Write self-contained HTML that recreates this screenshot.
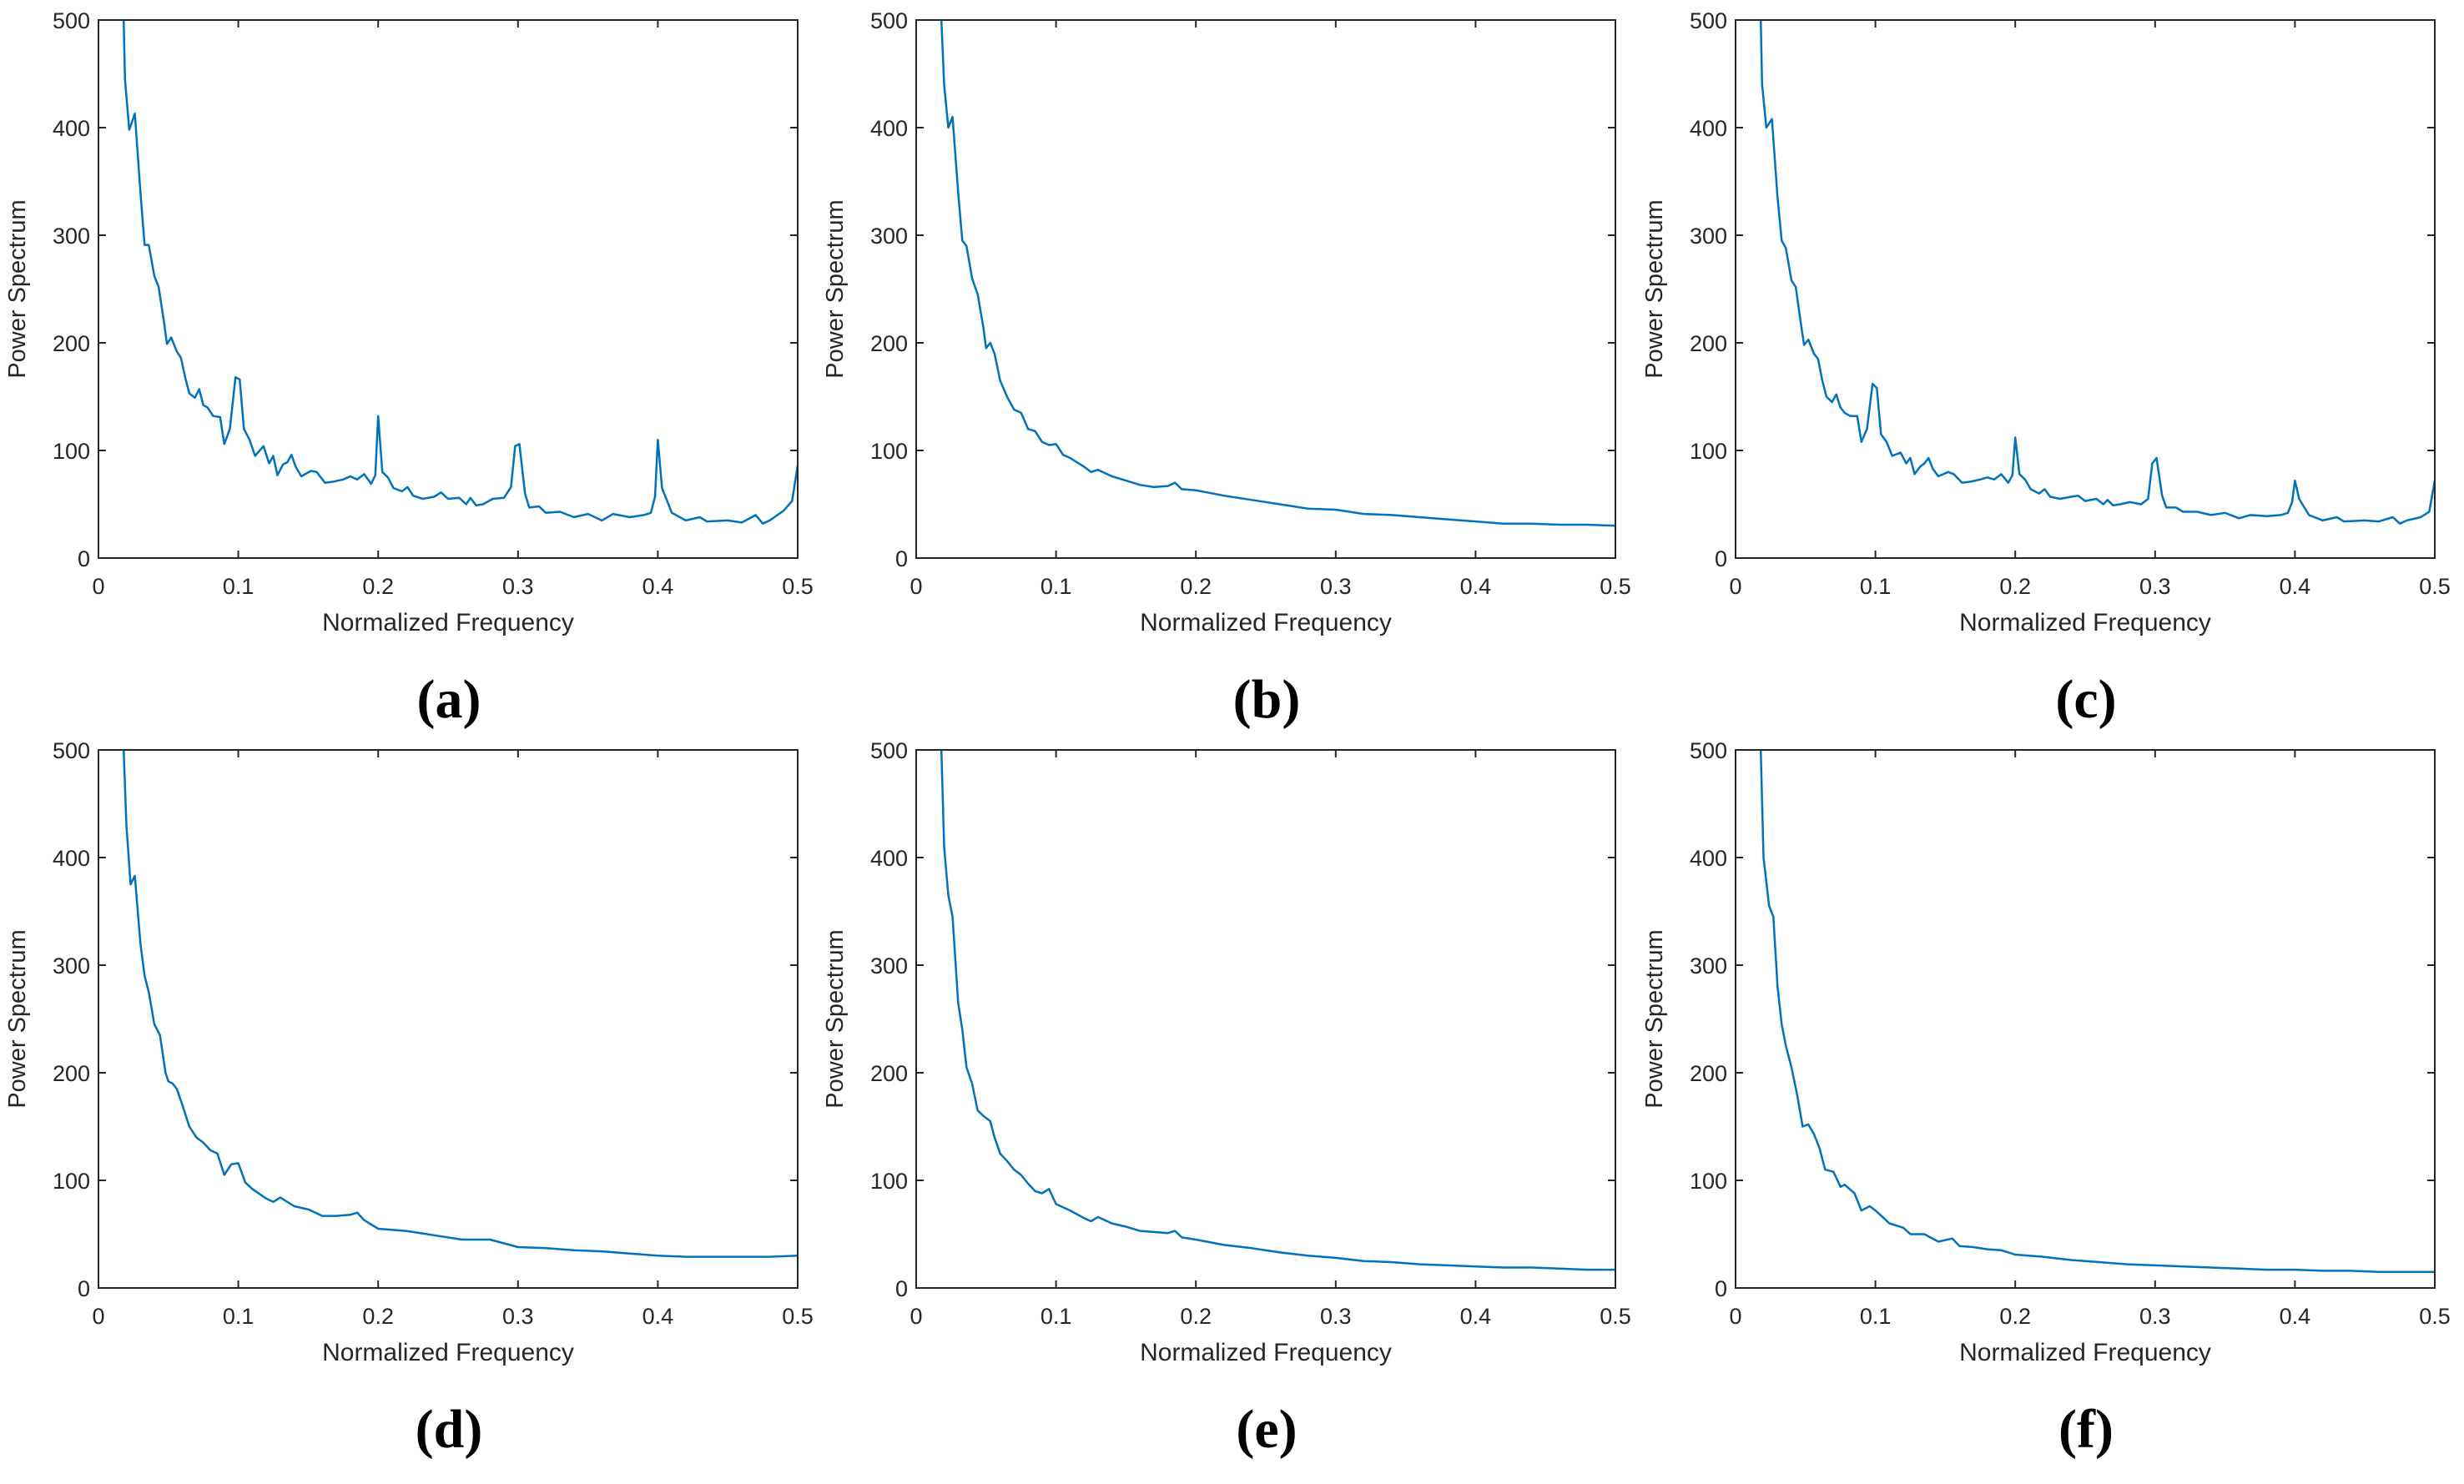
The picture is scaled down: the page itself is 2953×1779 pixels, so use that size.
<!DOCTYPE html>
<html><head><meta charset="utf-8"><style>
html,body{margin:0;padding:0;background:#fff;}
svg{display:block;}
</style></head><body>
<svg id="fig" xmlns="http://www.w3.org/2000/svg" width="2953" height="1779" viewBox="0 0 2953 1779"></svg>
<script>
const xTicks=[0,0.1,0.2,0.3,0.4,0.5];
const xTickLabels=["0","0.1","0.2","0.3","0.4","0.5"];
const yTicks=[0,100,200,300,400,500];
const yTickLabels=["0","100","200","300","400","500"];
const panelLabels=["(a)","(b)","(c)","(d)","(e)","(f)"];

const freqA=[0.018,0.019,0.022,0.026,0.030,0.033,0.036,0.040,0.043,0.047,0.049,0.052,0.056,0.059,0.062,0.065,0.069,0.072,0.075,0.078,0.082,0.087,0.090,0.094,0.098,0.101,0.104,0.108,0.112,0.118,0.122,0.125,0.128,0.132,0.135,0.138,0.141,0.145,0.152,0.156,0.162,0.168,0.175,0.180,0.185,0.190,0.195,0.198,0.200,0.203,0.207,0.211,0.217,0.221,0.225,0.232,0.240,0.245,0.250,0.258,0.263,0.266,0.270,0.275,0.282,0.290,0.295,0.298,0.301,0.305,0.308,0.315,0.320,0.330,0.340,0.350,0.360,0.368,0.380,0.390,0.395,0.398,0.400,0.403,0.410,0.420,0.430,0.435,0.450,0.460,0.470,0.475,0.480,0.490,0.496,0.500];
const powerA=[500,445,398,413,340,291,291,262,252,218,199,205,192,186,168,153,149,157,142,140,132,131,106,120,168,166,120,110,95,104,88,95,77,87,89,96,85,76,81,80,70,71,73,76,73,78,69,77,132,80,75,65,62,66,58,55,57,61,55,56,50,56,49,50,55,56,66,104,106,60,47,48,42,43,38,41,35,41,38,40,42,57,110,65,42,35,38,34,35,33,40,32,35,44,53,86];
const powerC=[500,440,400,408,335,295,288,258,252,215,198,203,190,185,165,150,145,152,140,135,132,132,108,120,162,158,115,108,95,98,88,93,78,85,88,93,83,76,80,78,70,71,73,75,73,78,70,77,112,78,73,64,60,64,57,55,57,58,53,55,50,54,49,50,52,50,55,88,93,58,47,47,43,43,40,42,37,40,39,40,42,52,72,55,40,35,38,34,35,34,38,32,35,38,43,72];
const freqB=[0.018,0.020,0.023,0.026,0.030,0.033,0.036,0.040,0.044,0.048,0.050,0.053,0.056,0.060,0.065,0.070,0.075,0.080,0.085,0.090,0.095,0.100,0.105,0.110,0.120,0.125,0.130,0.140,0.150,0.160,0.170,0.180,0.185,0.190,0.200,0.220,0.240,0.260,0.280,0.300,0.320,0.340,0.360,0.380,0.400,0.420,0.440,0.460,0.480,0.500];
const powerB=[500,440,400,410,340,295,290,260,245,215,195,200,190,165,150,138,135,120,118,108,105,106,96,93,85,80,82,76,72,68,66,67,70,64,63,58,54,50,46,45,41,40,38,36,34,32,32,31,31,30];
const powerD=[500,430,375,383,320,290,275,245,235,200,192,190,185,170,150,140,135,128,125,105,115,116,98,92,83,80,84,76,73,67,67,68,70,63,55,53,49,45,45,38,37,35,34,32,30,29,29,29,29,30];
const powerE=[500,410,365,345,265,240,205,190,165,160,158,155,140,125,118,110,105,97,90,88,92,78,75,72,65,62,66,60,57,53,52,51,53,47,45,40,37,33,30,28,25,24,22,21,20,19,19,18,17,17];
const freqF=[0.018,0.020,0.024,0.027,0.030,0.033,0.036,0.040,0.044,0.048,0.052,0.056,0.060,0.064,0.070,0.075,0.078,0.085,0.090,0.096,0.100,0.110,0.120,0.125,0.135,0.145,0.155,0.160,0.170,0.180,0.190,0.200,0.220,0.240,0.260,0.280,0.300,0.320,0.340,0.360,0.380,0.400,0.420,0.440,0.460,0.480,0.500];
const powerF=[500,400,355,345,280,245,225,205,180,150,152,143,130,110,108,94,96,88,72,76,72,60,56,50,50,43,46,39,38,36,35,31,29,26,24,22,21,20,19,18,17,17,16,16,15,15,15];

const series=[[freqA,powerA],[freqB,powerB],[freqA,powerC],[freqB,powerD],[freqB,powerE],[freqF,powerF]];
const NS="http://www.w3.org/2000/svg";
const svg=document.getElementById('fig');
function mk(t,a,p){const e=document.createElementNS(NS,t);for(const k in a)e.setAttribute(k,a[k]);p.appendChild(e);return e;}
const lefts=[118,1098,2080], tops=[24,899], W=838, H=645;
for(let i=0;i<6;i++){
  const L=lefts[i%3], T=tops[Math.floor(i/3)];
  const g=mk('g',{},svg);
  
  
  const sx=v=>L+v/0.5*W, sy=v=>T+H-v/500*H;
  const ff='"Liberation Sans", Arial, sans-serif';
  xTicks.forEach((t,j)=>{
    const x=sx(t);
    mk('line',{x1:x,y1:T+H,x2:x,y2:T+H-9,stroke:'#262626','stroke-width':2},g);
    mk('line',{x1:x,y1:T,x2:x,y2:T+9,stroke:'#262626','stroke-width':2},g);
    const tx=mk('text',{x:x,y:T+H+43,'text-anchor':'middle','font-family':ff,'font-size':27,fill:'#262626'},g);
    tx.textContent=xTickLabels[j];
    
    
  });
  yTicks.forEach((t,j)=>{
    const y=sy(t);
    mk('line',{x1:L,y1:y,x2:L+9,y2:y,stroke:'#262626','stroke-width':2},g);
    mk('line',{x1:L+W,y1:y,x2:L+W-9,y2:y,stroke:'#262626','stroke-width':2},g);
    const tx=mk('text',{x:L-10,y:y+10,'text-anchor':'end','font-family':ff,'font-size':27,fill:'#262626'},g);
    tx.textContent=yTickLabels[j];
    
    
  });
  const [fx,py]=series[i];
  const cp=mk('clipPath',{id:'c'+i},g);
  mk('rect',{x:L,y:T,width:W,height:H},cp);
  const d=fx.map((f,k)=>(k?'L':'M')+sx(f).toFixed(1)+','+sy(py[k]).toFixed(1)).join(' ');
  const pl=mk('path',{d:d,fill:'none',stroke:'#0072BD','stroke-width':2.5,'stroke-linejoin':'round','clip-path':'url(#c'+i+')'},g);
  
  
  const box=mk('rect',{x:L,y:T,width:W,height:H,fill:'none',stroke:'#262626','stroke-width':2},g);
  
  
  const xl=mk('text',{x:L+W/2,y:T+H+87,'text-anchor':'middle','font-family':ff,'font-size':30,fill:'#262626'},g);
  xl.textContent='Normalized Frequency';
  
  
  const yx=L-88, yy=T+H/2;
  const yl=mk('text',{x:yx,y:yy,'text-anchor':'middle','font-family':ff,'font-size':29,fill:'#262626',transform:'rotate(-90 '+yx+' '+yy+')'},g);
  yl.textContent='Power Spectrum';
  
  
  const pl2=mk('text',{x:L+W/2+1,y:T+H+191,'text-anchor':'middle','font-family':'"Liberation Serif", serif','font-size':66,'font-weight':'bold',fill:'#000'},g);
  pl2.textContent=panelLabels[i];
  
  
}
</script>
</body></html>
